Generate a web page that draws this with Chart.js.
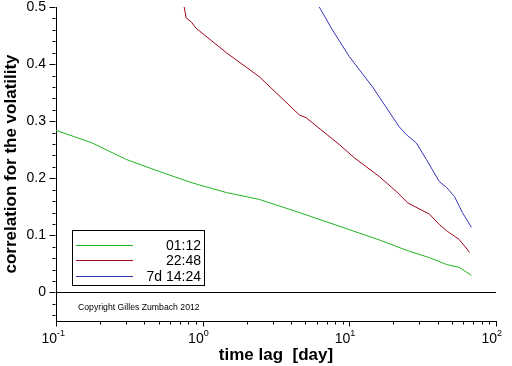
<!DOCTYPE html>
<html><head><meta charset="utf-8">
<script src="https://cdn.jsdelivr.net/npm/chart.js@4/dist/chart.umd.min.js"></script>
<style>html,body{margin:0;padding:0;background:#fff}canvas{display:block}</style>
</head><body>
<canvas id="c" width="512" height="366"></canvas>
<script>
// ---- data ----
const seriesLabels = ['01:12', '22:48', '7d 14:24'];
const seriesColors = ['#22b422', '#a0061a', '#3434b4'];

const greenLag  = [0.1, 0.176, 0.301, 0.505, 0.847, 1.45, 2.43, 4.56, 10, 16, 25.7, 35.2, 45.9, 56, 68];
const greenCorr = [0.284, 0.262, 0.233, 0.212, 0.192, 0.175, 0.163, 0.140, 0.110, 0.092, 0.072, 0.061, 0.049, 0.044, 0.030];

const redLag  = [0.748, 0.771, 0.835, 0.90, 1.45, 2.43, 4.56, 5.08, 8.55, 10.8, 16.0, 20.9, 25, 35.2, 41.1, 46.6, 56, 63.4, 66];
const redCorr = [0.5, 0.481, 0.474, 0.463, 0.420, 0.378, 0.311, 0.306, 0.259, 0.236, 0.203, 0.177, 0.157, 0.137, 0.119, 0.107, 0.093, 0.076, 0.070];

const blueLag  = [6.24, 7.66, 10, 14.4, 21.9, 24.6, 28.6, 33.5, 41.1, 46, 52.1, 59, 68];
const blueCorr = [0.5, 0.46, 0.413, 0.36, 0.29, 0.276, 0.262, 0.233, 0.194, 0.184, 0.168, 0.140, 0.114];

const xMajorTicks = [0.1, 1, 10, 100];
const xTickBase = '10';
const xTickExponents = ['-1', '0', '1', '2'];
const yMajorTicks = [0, 0.1, 0.2, 0.3, 0.4, 0.5];
const yTickLabels = ['0', '0.1', '0.2', '0.3', '0.4', '0.5'];
const xTitle = 'time lag  [day]';
const yTitle = 'correlation for the volatility';
const copyrightText = 'Copyright Gilles Zumbach 2012';

// minor tick positions (axis decoration only)
const xMinorTicks = [];
for (const d of [0.1, 1, 10]) for (let k = 2; k <= 9; k++) xMinorTicks.push(+(d * k).toFixed(4));
const yMinorTicks = [];
for (let i = -2; i <= 25; i++) { const v = +(i * 0.02).toFixed(2); if (!yMajorTicks.includes(v)) yMinorTicks.push(v); }

const toPts = (xs, ys) => xs.map((x, i) => ({x: x, y: ys[i]}));

const FONT = '"Liberation Sans", Arial, sans-serif';

const decorPlugin = {
  id: 'decor',
  afterDraw(chart) {
    const ctx = chart.ctx, xs = chart.scales.x, ys = chart.scales.y, a = chart.chartArea;
    ctx.save();
    ctx.strokeStyle = '#000'; ctx.lineWidth = 1;
    // x tick marks (below the axis)
    const xb = Math.round(a.bottom) + 0.5;
    const drawX = (v, len) => { const p = Math.round(xs.getPixelForValue(v)) + 0.5; ctx.beginPath(); ctx.moveTo(p, xb); ctx.lineTo(p, xb + len); ctx.stroke(); };
    xMajorTicks.forEach(v => drawX(v, 5));
    xMinorTicks.forEach(v => drawX(v, 3));
    // y tick marks (left of the axis)
    const yl = Math.round(a.left) - 0.5;
    const drawY = (v, len) => { const p = Math.round(ys.getPixelForValue(v)) + 0.5; ctx.beginPath(); ctx.moveTo(yl, p); ctx.lineTo(yl - len, p); ctx.stroke(); };
    yMajorTicks.forEach(v => drawY(v, 6));
    yMinorTicks.forEach(v => drawY(v, 3));
    // x tick labels: 10 with superscript exponent
    ctx.fillStyle = '#000';
    xMajorTicks.forEach((v, i) => {
      const p = xs.getPixelForValue(v);
      ctx.font = '14px ' + FONT; ctx.textAlign = 'right'; ctx.textBaseline = 'alphabetic';
      ctx.fillText(xTickBase, p + 1, 343);
      ctx.font = '9px ' + FONT; ctx.textAlign = 'left';
      ctx.fillText(xTickExponents[i], p + 1, 336);
    });
    // copyright
    ctx.font = '8.7px ' + FONT; ctx.textAlign = 'left';
    ctx.fillText(copyrightText, 78, 310);
    // legend box
    ctx.strokeRect(72.5, 230.5, 132, 55);
    const lineY = [245.5, 260.5, 276.5];
    const textY = [250, 265, 281];
    chart.data.datasets.forEach((ds, i) => {
      ctx.strokeStyle = ds.borderColor;
      ctx.beginPath(); ctx.moveTo(76, lineY[i]); ctx.lineTo(133, lineY[i]); ctx.stroke();
      ctx.font = '14px ' + FONT; ctx.textAlign = 'right'; ctx.fillStyle = '#000';
      ctx.fillText(ds.label, 201, textY[i]);
    });
    ctx.restore();
  }
};

new Chart(document.getElementById('c'), {
  type: 'line',
  data: {
    datasets: [
      {label: seriesLabels[0], data: toPts(greenLag, greenCorr), borderColor: seriesColors[0]},
      {label: seriesLabels[1], data: toPts(redLag, redCorr), borderColor: seriesColors[1]},
      {label: seriesLabels[2], data: toPts(blueLag, blueCorr), borderColor: seriesColors[2]}
    ].map(d => Object.assign(d, {borderWidth: 1, pointRadius: 0, tension: 0, fill: false}))
  },
  options: {
    responsive: false,
    animation: false,
    devicePixelRatio: 1,
    layout: {padding: {left: 0, right: 16, top: 7, bottom: 0}},
    plugins: {legend: {display: false}, tooltip: {enabled: false}},
    scales: {
      x: {
        type: 'logarithmic', min: 0.1, max: 100, position: 'bottom',
        afterBuildTicks: s => { s.ticks = xMajorTicks.map(v => ({value: v})); },
        afterFit: s => { s.height = 45; s.paddingLeft = 0; s.paddingRight = 0; },
        ticks: {display: false},
        grid: {display: false, drawTicks: false},
        border: {display: true, color: '#000', width: 1},
        title: {display: true, text: xTitle, color: '#000', font: {family: FONT, size: 17, weight: 'bold'}, padding: {top: 9, bottom: 0}}
      },
      y: {
        type: 'linear', min: -0.05, max: 0.5, position: 'left',
        afterBuildTicks: s => { s.ticks = yMajorTicks.map(v => ({value: v})); },
        afterFit: s => { s.width = 56; s.paddingTop = 0; s.paddingBottom = 0; },
        ticks: {
          color: '#000', padding: 10, font: {family: FONT, size: 14},
          callback: (v, i) => yTickLabels[i]
        },
        grid: {drawTicks: false, lineWidth: 1, color: c => (c.tick && c.tick.value === 0) ? '#000' : 'rgba(0,0,0,0)'},
        border: {display: true, color: '#000', width: 1},
        title: {display: true, text: yTitle, color: '#000', font: {family: FONT, size: 17, weight: 'bold'}, padding: {top: 1, bottom: 0}}
      }
    }
  },
  plugins: [decorPlugin]
});
</script>
</body></html>
